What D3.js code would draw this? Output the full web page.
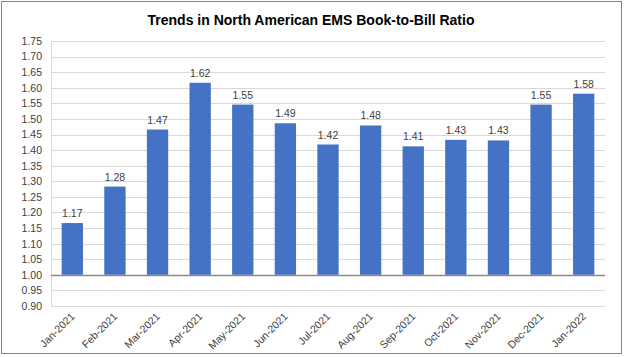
<!DOCTYPE html>
<html><head><meta charset="utf-8">
<script src="https://cdn.jsdelivr.net/npm/d3@7"></script>
<style>
html,body{margin:0;padding:0;background:#fff;}
svg{display:block;font-family:"Liberation Sans",Arial,sans-serif;}
</style></head>
<body><svg id="chart" width="624" height="357"></svg>
<script>
const title = "Trends in North American EMS Book-to-Bill Ratio";
const categories = ["Jan-2021","Feb-2021","Mar-2021","Apr-2021","May-2021","Jun-2021","Jul-2021","Aug-2021","Sep-2021","Oct-2021","Nov-2021","Dec-2021","Jan-2022"];
const values = [1.166,1.283,1.466,1.616,1.546,1.486,1.418,1.479,1.412,1.433,1.431,1.546,1.581];
const yTicks = [0.90,0.95,1.00,1.05,1.10,1.15,1.20,1.25,1.30,1.35,1.40,1.45,1.50,1.55,1.60,1.65,1.70,1.75];
const baseValue = 1.00;

const svg = d3.select("#chart");
const W = 624, H = 357;
const m = {left:51, right:19, top:41, bottom:51};

svg.append("rect").attr("x",1.5).attr("y",1.5).attr("width",W-4).attr("height",H-5)
  .attr("fill","#fff").attr("stroke","#868686").attr("stroke-width",1);

const x = d3.scaleBand().domain(categories).range([m.left, W-m.right]).paddingInner(0.5).paddingOuter(0.25);
const y = d3.scaleLinear().domain([0.90,1.75]).range([H-m.bottom, m.top]);

const yAxis = svg.append("g").attr("transform",`translate(${m.left},0)`)
  .call(d3.axisLeft(y).tickValues(yTicks).tickFormat(d3.format(".2f")).tickSize(-(W-m.left-m.right)).tickPadding(9));
yAxis.select(".domain").attr("stroke","#d9d9d9");
yAxis.selectAll(".tick line").attr("stroke","#d9d9d9").attr("shape-rendering","crispEdges");
yAxis.selectAll(".tick text").attr("fill","#404040").style("font-size","10.5px");

svg.append("g").selectAll("rect").data(values).join("rect")
  .attr("x",(d,i)=>x(categories[i]))
  .attr("width",x.bandwidth())
  .attr("y",d=>y(d))
  .attr("height",d=>y(baseValue)-y(d))
  .attr("fill","#4472C4");

svg.append("line").attr("x1",m.left).attr("x2",W-m.right)
  .attr("y1",Math.round(y(baseValue))+0.5).attr("y2",Math.round(y(baseValue))+0.5)
  .attr("stroke","#8c8c8c").attr("stroke-width",1.5);

svg.append("g").selectAll("text").data(values).join("text")
  .attr("x",(d,i)=>x(categories[i])+x.bandwidth()/2)
  .attr("y",d=>y(d)-6)
  .attr("text-anchor","middle")
  .attr("fill","#404040").style("font-size","10.5px")
  .text(d=>d3.format(".2f")(d));

const xAxis = svg.append("g").attr("transform",`translate(0,${H-m.bottom})`)
  .call(d3.axisBottom(x).tickSize(0).tickPadding(0));
xAxis.select(".domain").remove();
xAxis.selectAll(".tick text")
  .attr("text-anchor","end")
  .attr("dy","0")
  .attr("transform","translate(3,11) rotate(-45)")
  .attr("fill","#404040").style("font-size","10.5px");

svg.append("text").attr("x",311).attr("y",25).attr("text-anchor","middle")
  .style("font-size","14px").style("font-weight","bold").attr("fill","#000").text(title);
</script></body></html>
